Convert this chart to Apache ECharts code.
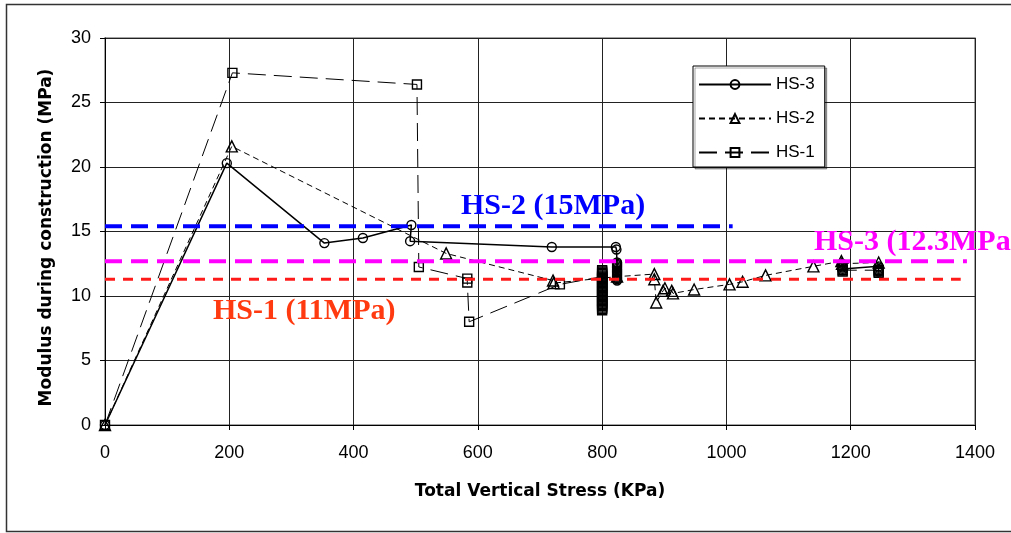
<!DOCTYPE html>
<html>
<head>
<meta charset="utf-8">
<script src="https://cdn.jsdelivr.net/npm/echarts@6/dist/echarts.min.js"></script>
<style>
  html, body { margin: 0; padding: 0; background: #fff; }
  #chart { width: 1011px; height: 533px; }
</style>
</head>
<body>
<div id="chart"></div>
<script>
// measured data [stress kPa, modulus MPa]
const hs3Data = [[0, 0], [196, 20.3], [353, 14.1], [415, 14.5], [493, 15.5], [491, 14.25],
  [719, 13.8], [822, 13.8], [823, 13.6], [824, 12.6], [824, 12.5], [824, 12.4], [824, 12.3],
  [824, 12.2], [824, 12.1], [824, 12.0], [824, 11.9], [824, 11.8], [824, 11.7], [824, 11.6],
  [824, 11.5], [824, 11.4], [824, 11.3], [824, 11.2]];
const hs3Tail = [[1186, 12.5], [1187, 12.3], [1187, 12.2], [1187, 12.1], [1187, 12.0],
  [1245, 12.3], [1245, 12.2], [1245, 12.1], [1245, 12.0], [1245, 11.9]];

const hs2Data = [[0, 0], [204, 21.6], [549, 13.3], [721, 11.2], [722, 11.0], [824, 11.5],
  [884, 11.7], [884, 11.3], [887, 9.5], [898, 10.4], [901, 10.6], [912, 10.4], [914, 10.2],
  [948, 10.5], [1005, 10.9], [1026, 11.1], [1063, 11.6], [1140, 12.3], [1185, 12.7],
  [1186, 12.5], [1245, 12.6]];

const hs1Data = [[0, 0], [205, 27.3], [502, 26.4], [505, 12.25], [583, 11.35], [583, 11.05],
  [586, 8.0], [732, 10.9], [800, 11.5], [800, 12.0], [800, 11.9], [800, 11.8], [800, 11.7],
  [800, 11.6], [800, 11.5], [800, 11.4], [800, 11.3], [800, 11.2], [800, 11.1], [800, 11.0],
  [800, 10.9], [800, 10.8], [800, 10.7], [800, 10.6], [800, 10.5], [800, 10.4], [800, 10.3],
  [800, 10.2], [800, 10.1], [800, 10.0], [800, 9.9], [800, 9.8], [800, 9.7], [800, 9.6],
  [800, 9.5], [800, 9.4], [800, 9.3], [800, 9.2], [800, 9.1], [800, 9.0], [800, 8.9]];
const hs1Tail = [[1187, 12.3], [1187, 12.0], [1187, 11.9], [1245, 12.0], [1245, 11.9], [1245, 11.8]];

// design values drawn as horizontal dashed lines
const hs2Ref = [[0, 15.4], [1010, 15.4]];
const hs3Ref = [[0, 12.7], [1387, 12.7]];
const hs1Ref = [[0, 11.3], [1377, 11.3]];

const xTicks = { min: 0, max: 1400, interval: 200 };
const yTicks = { min: 0, max: 30, interval: 5 };

const chart = echarts.init(document.getElementById("chart"));

function dataSeries(name, data, symbol, size, dash, width) {
  return {
    name: name,
    type: "line",
    data: data,
    symbol: symbol,
    symbolSize: size,
    showAllSymbol: true,
    animation: false,
    lineStyle: { color: "#000", width: width, type: dash },
    itemStyle: { color: "rgba(255,255,255,0)", borderColor: "#000", borderWidth: 1.4 },
    z: 3,
  };
}

function refSeries(data, color, width, dash) {
  return {
    type: "line",
    data: data,
    symbol: "none",
    silent: true,
    animation: false,
    lineStyle: { color: color, width: width, type: dash },
    z: 5,
  };
}

const titleFont = { fontFamily: "DejaVu Sans", fontWeight: "bold", fontSize: 17, color: "#000" };

chart.setOption({
  backgroundColor: "#fff",
  grid: {
    left: 105, right: 36, top: 38, bottom: 108,
    show: true, borderColor: "#888", borderWidth: 1.5,
  },
  legend: {
    data: ["HS-3", "HS-2", "HS-1"],
    orient: "vertical",
    left: 693,
    top: 66,
    itemWidth: 72,
    itemHeight: 11,
    itemGap: 17,
    padding: [10, 10, 6, 5],
    backgroundColor: "#fff",
    borderColor: "#000",
    borderWidth: 1,
    shadowColor: "rgba(0,0,0,0.35)",
    shadowOffsetX: 2,
    shadowOffsetY: 2,
    textStyle: { fontFamily: "Liberation Sans", fontSize: 17, color: "#000" },
  },
  xAxis: {
    type: "value",
    min: xTicks.min, max: xTicks.max, interval: xTicks.interval,
    name: "Total Vertical Stress (KPa)",
    nameLocation: "middle",
    nameGap: 58,
    nameTextStyle: titleFont,
    axisLine: { lineStyle: { color: "#000", width: 1 } },
    axisTick: { show: true, length: 5, lineStyle: { color: "#000" } },
    axisLabel: {
      margin: 19, fontFamily: "Liberation Sans", fontSize: 18, color: "#000",
      formatter: (v) => String(v),
    },
    splitLine: { lineStyle: { color: "#222", width: 1 } },
  },
  yAxis: {
    type: "value",
    min: yTicks.min, max: yTicks.max, interval: yTicks.interval,
    name: "Modulus during construction (MPa)",
    nameLocation: "middle",
    nameGap: 50,
    nameTextStyle: Object.assign({ padding: [0, 12, 0, 0] }, titleFont),
    axisLine: { show: true, lineStyle: { color: "#000", width: 1 } },
    axisTick: { show: true, length: 5, lineStyle: { color: "#000" } },
    axisLabel: { margin: 14, fontFamily: "Liberation Sans", fontSize: 18, color: "#000" },
    splitLine: { lineStyle: { color: "#222", width: 1 } },
  },
  graphic: [
    {
      type: "rect",
      shape: { x: 6.5, y: 4.5, width: 1020, height: 527 },
      style: { fill: "none", stroke: "#333", lineWidth: 1.5 },
      silent: true,
    },
    {
      type: "text", left: 461, top: 191, z: 10,
      style: { text: "HS-2 (15MPa)", fill: "#0000ff", font: "bold 30px 'Liberation Serif'" },
    },
    {
      type: "text", left: 213, top: 296, z: 10,
      style: { text: "HS-1 (11MPa)", fill: "#ff3a10", font: "bold 30px 'Liberation Serif'" },
    },
    {
      type: "text", left: 814, top: 227, z: 10,
      style: { text: "HS-3 (12.3MPa)", fill: "#ff00ff", font: "bold 30px 'Liberation Serif'" },
    },
  ],
  series: [
    dataSeries("HS-3", hs3Data, "circle", 9, "solid", 1.5),
    dataSeries("HS-3", hs3Tail, "circle", 9, "solid", 1.5),
    dataSeries("HS-2", hs2Data, "triangle", 11, [6, 4], 1),
    dataSeries("HS-1", hs1Data, "rect", 9, [18, 8], 1),
    dataSeries("HS-1", hs1Tail, "rect", 9, [18, 8], 1),
    refSeries(hs2Ref, "#0000ff", 4, [17, 9]),
    refSeries(hs3Ref, "#ff00ff", 4, [17, 9]),
    refSeries(hs1Ref, "#ff1a1a", 3, [10, 8]),
  ],
});
</script>
</body>
</html>
